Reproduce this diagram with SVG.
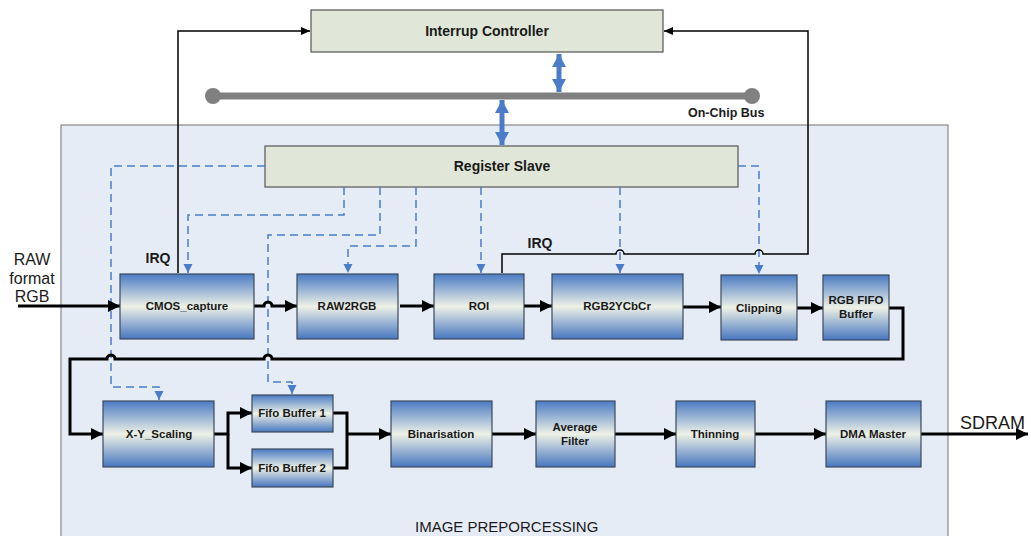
<svg xmlns="http://www.w3.org/2000/svg" width="1031" height="536" viewBox="0 0 1031 536">
<defs>
<linearGradient id="blk" x1="0" y1="0" x2="0" y2="1">
<stop offset="0" stop-color="#4a7bc4"/>
<stop offset="0.5" stop-color="#eef1e6"/>
<stop offset="1" stop-color="#4776c0"/>
</linearGradient>
<marker id="ab" markerUnits="userSpaceOnUse" markerWidth="14" markerHeight="14" viewBox="0 0 14 14" refX="13" refY="7" orient="auto">
<path d="M1,1 L13,7 L1,13 Z" fill="#000"/>
</marker>
<marker id="at" markerUnits="userSpaceOnUse" markerWidth="10" markerHeight="10" viewBox="0 0 10 10" refX="9" refY="5" orient="auto">
<path d="M0,1 L9,5 L0,9 Z" fill="#000"/>
</marker>
<marker id="ad" markerUnits="userSpaceOnUse" markerWidth="10" markerHeight="10" viewBox="0 0 10 10" refX="9" refY="5" orient="auto">
<path d="M0,0.5 L9,5 L0,9.5 Z" fill="#4a7cc9"/>
</marker>
<marker id="abl" markerUnits="userSpaceOnUse" markerWidth="14" markerHeight="16" viewBox="0 0 14 16" refX="13" refY="8" orient="auto-start-reverse">
<path d="M0,1 L13,8 L0,15 Z" fill="#4a7cc9"/>
</marker>
</defs>
<style>
.blk{fill:url(#blk);stroke:#3c4a5c;stroke-width:1.2}
.grn{fill:#e0e7d8;stroke:#555;stroke-width:1.2}
.t{font-family:"Liberation Sans",Arial,sans-serif;font-weight:bold;font-size:11.5px;fill:#1a1a1a;text-anchor:middle}
.tb{font-family:"Liberation Sans",Arial,sans-serif;font-weight:bold;font-size:14px;fill:#1a1a1a;text-anchor:middle}
.tn{font-family:"Liberation Sans",Arial,sans-serif;fill:#1a1a1a}
.thick{fill:none;stroke:#000;stroke-width:3}
.thin{fill:none;stroke:#000;stroke-width:1.5}
.dash{fill:none;stroke:#4a7cc9;stroke-width:1.5;stroke-dasharray:8,5}
.bl{fill:none;stroke:#4a7cc9;stroke-width:5}
</style>
<rect width="1031" height="536" fill="#fff"/>
<g id="image-preprocessing">
<rect x="61" y="125" width="887" height="420" fill="#e6ecf6" stroke="#888" stroke-width="1.2"/>
<text class="tn" x="415" y="532" font-size="15">IMAGE PREPORCESSING</text>
</g>
<g id="bus">
<line x1="213" y1="96" x2="752" y2="96" stroke="#808080" stroke-width="7"/>
<circle cx="213" cy="96" r="8" fill="#808080"/>
<circle cx="752" cy="96" r="8" fill="#808080"/>
<text class="tn" x="688" y="117" font-size="12.5" font-weight="bold">On-Chip Bus</text>
</g>
<g id="interrupt-controller">
<rect class="grn" x="311" y="10" width="352" height="42"/>
<text class="tb" x="487" y="36">Interrup Controller</text>
</g>
<g id="register-slave">
<rect class="grn" x="265" y="146" width="473" height="41"/>
<text class="tb" x="502" y="171">Register Slave</text>
</g>
<g id="connectors">
<line class="bl" x1="559" y1="54" x2="559" y2="92" marker-start="url(#abl)" marker-end="url(#abl)"/>
<line class="bl" x1="502" y1="100" x2="502" y2="145" marker-start="url(#abl)" marker-end="url(#abl)"/>
<path class="dash" d="M265,166 H111 V387 H159 V400" marker-end="url(#ad)"/>
<path class="dash" d="M344,187 V215 H188 V273" marker-end="url(#ad)"/>
<path class="dash" d="M380,187 V235 H268 V382 H292 V394" marker-end="url(#ad)"/>
<path class="dash" d="M416,187 V246 H348 V273" marker-end="url(#ad)"/>
<path class="dash" d="M481,187 V273" marker-end="url(#ad)"/>
<path class="dash" d="M620,187 V273" marker-end="url(#ad)"/>
<path class="dash" d="M738,166 H759 V274" marker-end="url(#ad)"/>
<path class="thin" d="M178,273 V31 H310" marker-end="url(#at)"/>
<path class="thin" d="M502,273 V254 H616 A4,4 0 0 1 624,254 H755 A4,4 0 0 1 763,254 H808 V31 H664" marker-end="url(#at)"/>
<path class="thick" d="M18,306 H120" marker-end="url(#ab)"/>
<path class="thick" d="M254,306 H264 A4,4 0 0 1 272,306 H297" marker-end="url(#ab)"/>
<path class="thick" d="M400,306 H434" marker-end="url(#ab)"/>
<path class="thick" d="M524,306 H552" marker-end="url(#ab)"/>
<path class="thick" d="M683,307 H721" marker-end="url(#ab)"/>
<path class="thick" d="M797,308 H823" marker-end="url(#ab)"/>
<path class="thick" d="M889,308 H903 V359 H272 A4,4 0 0 0 264,359 H115 A4,4 0 0 0 107,359 H70 V434 H103" marker-end="url(#ab)"/>
<path class="thick" d="M214,434 H228 V413 H252" marker-end="url(#ab)"/>
<path class="thick" d="M228,434 V468 H252" marker-end="url(#ab)"/>
<path class="thick" d="M333,413 H347 V468 H333"/>
<path class="thick" d="M347,434 H391" marker-end="url(#ab)"/>
<path class="thick" d="M492,434 H536" marker-end="url(#ab)"/>
<path class="thick" d="M615,434 H676" marker-end="url(#ab)"/>
<path class="thick" d="M755,434 H826" marker-end="url(#ab)"/>
<path class="thick" d="M921,434 H1028" marker-end="url(#ab)"/>
</g>
<g id="labels">
<text class="tb" x="158" y="263">IRQ</text>
<text class="tb" x="540" y="248">IRQ</text>
<text class="tn" x="32" y="265" font-size="16" text-anchor="middle">RAW</text>
<text class="tn" x="32" y="284" font-size="16" text-anchor="middle">format</text>
<text class="tn" x="32" y="302" font-size="16" text-anchor="middle">RGB</text>
<text class="tn" x="960" y="429" font-size="18">SDRAM</text>
</g>
<g id="cmos-capture"><rect class="blk" x="120" y="274" width="134" height="65"/><text class="t" x="187" y="310">CMOS_capture</text></g>
<g id="raw2rgb"><rect class="blk" x="297" y="274" width="101" height="65"/><text class="t" x="347" y="310">RAW2RGB</text></g>
<g id="roi"><rect class="blk" x="434" y="274" width="90" height="65"/><text class="t" x="479" y="310">ROI</text></g>
<g id="rgb2ycbcr"><rect class="blk" x="552" y="274" width="131" height="65"/><text class="t" x="617" y="310">RGB2YCbCr</text></g>
<g id="clipping"><rect class="blk" x="721" y="275" width="76" height="65"/><text class="t" x="759" y="312">Clipping</text></g>
<g id="rgb-fifo-buffer"><rect class="blk" x="823" y="275" width="66" height="65"/><text class="t" x="856" y="304">RGB FIFO</text><text class="t" x="856" y="318">Buffer</text></g>
<g id="xy-scaling"><rect class="blk" x="103" y="401" width="111" height="66"/><text class="t" x="159" y="438">X-Y_Scaling</text></g>
<g id="fifo-buffer-1"><rect class="blk" x="252" y="395" width="81" height="37"/><text class="t" x="292" y="417">Fifo Buffer 1</text></g>
<g id="fifo-buffer-2"><rect class="blk" x="252" y="449" width="81" height="38"/><text class="t" x="292" y="472">Fifo Buffer 2</text></g>
<g id="binarisation"><rect class="blk" x="391" y="401" width="101" height="66"/><text class="t" x="441" y="438">Binarisation</text></g>
<g id="average-filter"><rect class="blk" x="536" y="401" width="79" height="66"/><text class="t" x="575" y="431">Average</text><text class="t" x="575" y="445">Filter</text></g>
<g id="thinning"><rect class="blk" x="676" y="401" width="79" height="66"/><text class="t" x="715" y="438">Thinning</text></g>
<g id="dma-master"><rect class="blk" x="826" y="401" width="95" height="66"/><text class="t" x="873" y="438">DMA Master</text></g>
</svg>
